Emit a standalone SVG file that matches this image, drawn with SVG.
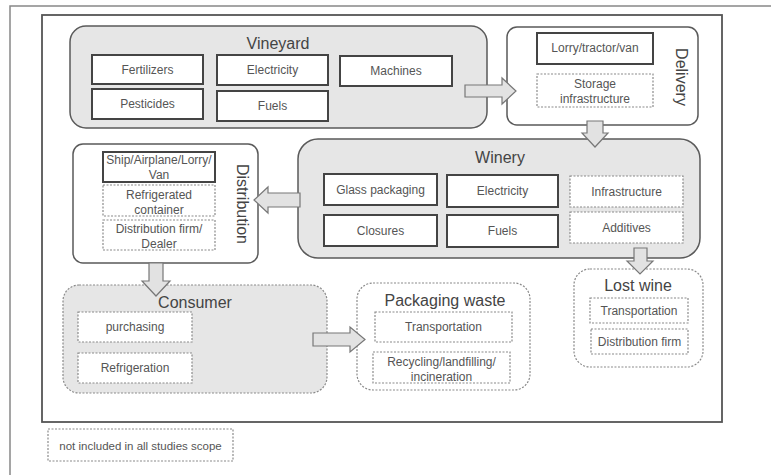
<svg xmlns="http://www.w3.org/2000/svg" width="771" height="475" viewBox="0 0 771 475">
<style>
text{font-family:"Liberation Sans",Arial,sans-serif;fill:#555;text-anchor:middle}
.t{font-size:16px;fill:#444}
.s{font-size:12px}
.cont{fill:#e6e6e6;stroke:#5a5a5a;stroke-width:1.5}
.wcont{fill:#fff;stroke:#5a5a5a;stroke-width:1.5}
.dcont{stroke:#8a8a8a;stroke-width:1.2;stroke-dasharray:2 1.5}
.box{fill:#fff;stroke:#444;stroke-width:2}
.dbox{fill:#fff;stroke:#8a8a8a;stroke-width:1.2;stroke-dasharray:2 1.5}
.arr{fill:#e2e2e2;stroke:#777;stroke-width:1.2}
</style>
<rect x="0" y="0" width="771" height="475" fill="#fff"/>
<path d="M10 475 V6 H771" fill="none" stroke="#888" stroke-width="1.5"/>
<rect x="42" y="15" width="680" height="407" fill="none" stroke="#555" stroke-width="1.8"/>

<g id="vineyard">
<rect class="cont" x="70" y="26" width="417" height="102" rx="16"/>
<text class="t" x="278" y="49">Vineyard</text>
<rect class="box" x="92" y="55" width="111" height="29"/><text class="s" x="147.5" y="74">Fertilizers</text>
<rect class="box" x="217" y="55" width="111" height="30"/><text class="s" x="272.5" y="74">Electricity</text>
<rect class="box" x="340" y="56" width="112" height="30"/><text class="s" x="396" y="75">Machines</text>
<rect class="box" x="92" y="89" width="111" height="30"/><text class="s" x="147.5" y="108">Pesticides</text>
<rect class="box" x="217" y="91" width="111" height="30"/><text class="s" x="272.5" y="110">Fuels</text>
</g>

<g id="delivery">
<rect class="wcont" x="507" y="27" width="191" height="98" rx="10"/>
<text class="t" transform="translate(676,77) rotate(90)">Delivery</text>
<rect class="box" x="537" y="33" width="116" height="31"/><text class="s" x="595" y="52">Lorry/tractor/van</text>
<rect class="dbox" x="537" y="74" width="116" height="33"/>
<text class="s" x="595" y="88">Storage</text><text class="s" x="595" y="103">infrastructure</text>
</g>

<g id="winery">
<rect class="cont" x="298" y="139" width="402" height="119" rx="20"/>
<text class="t" x="500" y="163">Winery</text>
<rect class="box" x="324" y="174" width="113" height="31"/><text class="s" x="380.5" y="194">Glass packaging</text>
<rect class="box" x="447" y="175" width="111" height="32"/><text class="s" x="502.5" y="195">Electricity</text>
<rect class="dbox" x="570" y="176" width="113" height="31"/><text class="s" x="626.5" y="196">Infrastructure</text>
<rect class="box" x="324" y="215" width="113" height="31"/><text class="s" x="380.5" y="235">Closures</text>
<rect class="box" x="447" y="215" width="111" height="32"/><text class="s" x="502.5" y="235">Fuels</text>
<rect class="dbox" x="570" y="212" width="113" height="31"/><text class="s" x="626.5" y="232">Additives</text>
</g>

<g id="distribution">
<rect class="wcont" x="73" y="144" width="185" height="119" rx="10"/>
<text class="t" transform="translate(237,204) rotate(90)">Distribution</text>
<rect class="box" x="103" y="152" width="112" height="30"/>
<text class="s" x="159" y="164">Ship/Airplane/Lorry/</text><text class="s" x="159" y="179">Van</text>
<rect class="dbox" x="103" y="185" width="112" height="31"/>
<text class="s" x="159" y="199">Refrigerated</text><text class="s" x="159" y="214">container</text>
<rect class="dbox" x="103" y="220" width="112" height="30"/>
<text class="s" x="159" y="233">Distribution firm/</text><text class="s" x="159" y="248">Dealer</text>
</g>

<g id="consumer">
<rect class="dcont" fill="#e6e6e6" x="63" y="285" width="264" height="108" rx="16"/>
<text class="t" x="195" y="308">Consumer</text>
<rect class="dbox" x="78" y="312" width="114" height="30"/><text class="s" x="135" y="331">purchasing</text>
<rect class="dbox" x="78" y="353" width="114" height="30"/><text class="s" x="135" y="372">Refrigeration</text>
</g>

<g id="packaging-waste">
<rect class="dcont" fill="#fff" x="357" y="283" width="173" height="107" rx="16"/>
<text class="t" x="445" y="306">Packaging waste</text>
<rect class="dbox" x="375" y="312" width="137" height="30"/><text class="s" x="443.5" y="331">Transportation</text>
<rect class="dbox" x="373" y="352" width="137" height="31"/>
<text class="s" x="441.5" y="366">Recycling/landfilling/</text><text class="s" x="441.5" y="381">incineration</text>
</g>

<g id="lost-wine">
<rect class="dcont" fill="#fff" x="574" y="269" width="129" height="98" rx="16"/>
<text class="t" x="638" y="291">Lost wine</text>
<rect class="dbox" x="590" y="298" width="98" height="25"/><text class="s" x="639" y="315">Transportation</text>
<rect class="dbox" x="591" y="329" width="97" height="25"/><text class="s" x="639.5" y="346">Distribution firm</text>
</g>

<g id="legend">
<rect class="dbox" x="48" y="429" width="185" height="32"/>
<text class="s" x="140.5" y="450" style="font-size:11.5px">not included in all studies scope</text>
</g>

<g id="connectors">
<path class="arr" d="M465 85 H502 V78 L516 91 L502 104 V97 H465 Z"/>
<path class="arr" d="M587 121 V133 H582 L595 147 L608 133 H603 V121 Z"/>
<path class="arr" d="M300 193 H268 V187 L254 200 L268 213 V207 H300 Z"/>
<path class="arr" d="M149 263 V281 H142 L156 296 L170 281 H163 V263 Z"/>
<path class="arr" d="M313 333 H350 V327 L365 339.5 L350 352 V346 H313 Z"/>
<path class="arr" d="M634 248 V261 H627 L640 274 L653 261 H647 V248 Z"/>
</g>
</svg>
